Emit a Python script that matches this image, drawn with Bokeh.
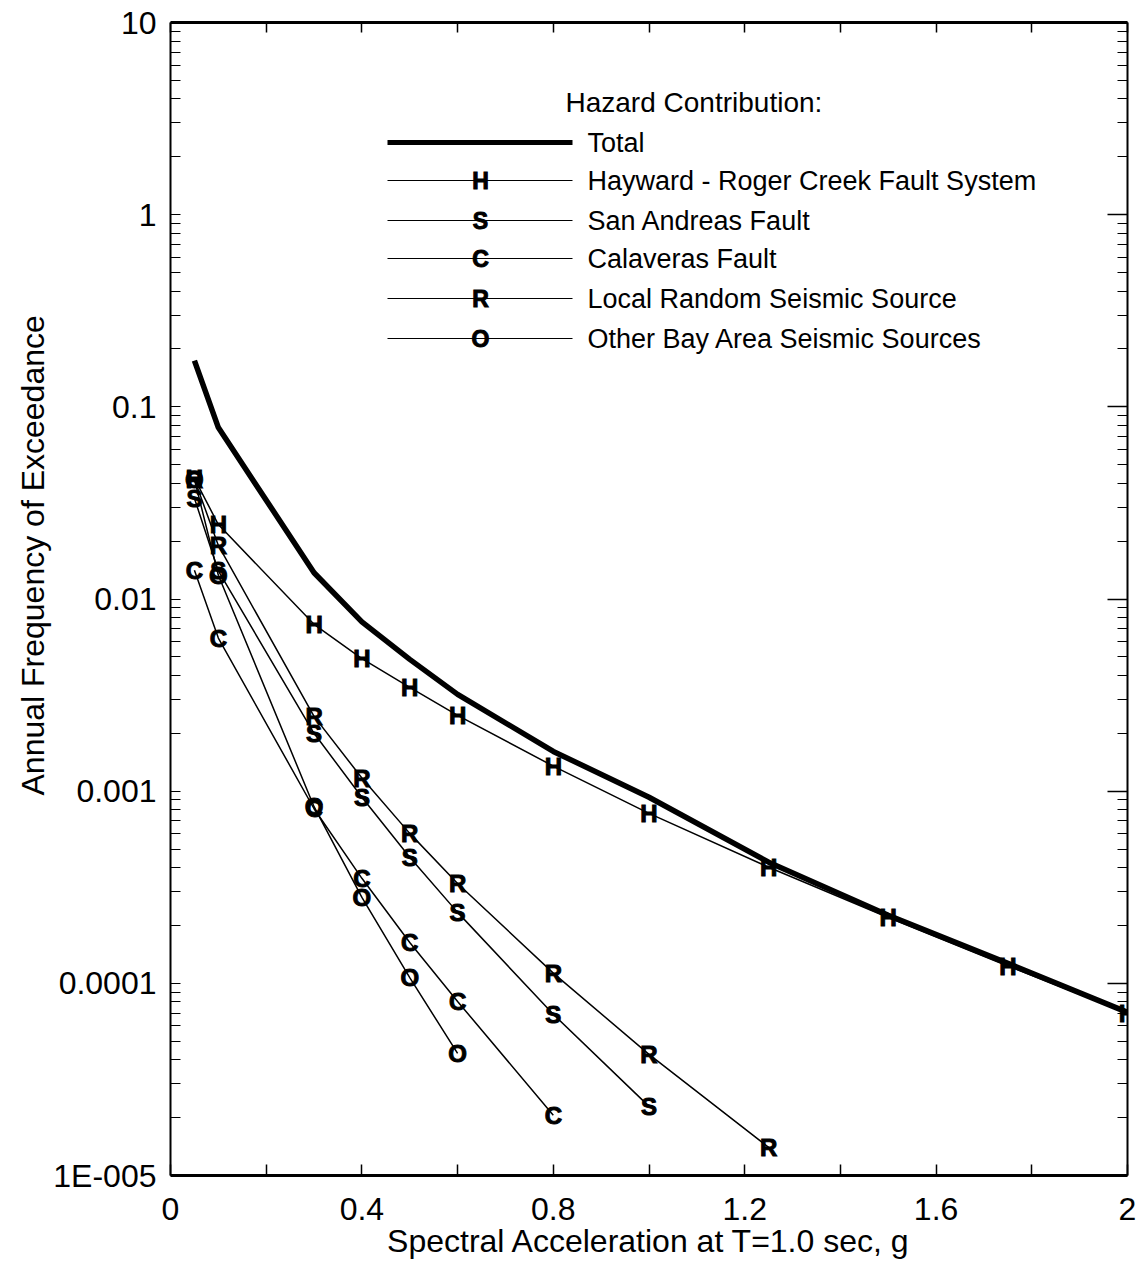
from bokeh.plotting import figure
from bokeh.models import (FixedTicker, LinearAxis, LogAxis, Range1d, Label, Arrow, Title,
                          CustomJSTickFormatter, CustomLabelingPolicy)
from bokeh.core.properties import value
from bokeh.embed import file_html
from bokeh.resources import INLINE

# ---------------- data ----------------
sa_total = [0.05, 0.1, 0.3, 0.4, 0.5, 0.6, 0.8, 1.0, 1.25, 1.5, 1.75, 2.0]
total = [0.174, 0.078, 0.0137, 0.0076, 0.00485, 0.00319, 0.00161, 0.00093,
         0.000427, 0.000226, 0.000127, 7.06e-5]

sa_hayward = [0.05, 0.1, 0.3, 0.4, 0.5, 0.6, 0.8, 1.0, 1.25, 1.5, 1.75, 2.0]
hayward = [0.0424, 0.0244, 0.00738, 0.0049, 0.00347, 0.00248, 0.00135, 0.000766,
           0.000402, 0.00022, 0.000123, 7.0e-5]

sa_san_andreas = [0.05, 0.1, 0.3, 0.4, 0.5, 0.6, 0.8, 1.0]
san_andreas = [0.0334, 0.0140, 0.0020, 0.00093, 0.000453, 0.000234, 6.9e-5, 2.29e-5]

sa_calaveras = [0.05, 0.1, 0.3, 0.4, 0.5, 0.6, 0.8]
calaveras = [0.0141, 0.00626, 0.00081, 0.000352, 0.000163, 8.05e-5, 2.06e-5]

sa_local = [0.05, 0.1, 0.3, 0.4, 0.5, 0.6, 0.8, 1.0, 1.25]
local_random = [0.042, 0.019, 0.00245, 0.00117, 0.000603, 0.000331, 0.000113, 4.27e-5, 1.4e-5]

sa_other = [0.05, 0.1, 0.3, 0.4, 0.5, 0.6]
other_bay = [0.042, 0.0133, 0.00083, 0.00028, 0.000107, 4.32e-5]

series_names = ["Hayward - Roger Creek Fault System", "San Andreas Fault",
                "Calaveras Fault", "Local Random Seismic Source",
                "Other Bay Area Seismic Sources"]
series_letters = ["H", "S", "C", "R", "O"]
series_x = [sa_hayward, sa_san_andreas, sa_calaveras, sa_local, sa_other]
series_y = [hayward, san_andreas, calaveras, local_random, other_bay]

x_ticks = [0, 0.4, 0.8, 1.2, 1.6, 2.0]
x_tick_labels = ["0", "0.4", "0.8", "1.2", "1.6", "2"]
x_minor = [0.2, 0.6, 1.0, 1.4, 1.8]
y_ticks = [1e-5, 1e-4, 1e-3, 1e-2, 1e-1, 1, 10]
y_tick_labels = ["1E-005", "0.0001", "0.001", "0.01", "0.1", "1", "10"]
y_minor = [m * 10.0 ** e for e in range(-5, 1) for m in range(2, 10)]

FONT = "Liberation Sans"
X0, X1 = 0.0, 2.0
LY0, LY1 = -5.0, 1.0
FRAME_W, FRAME_H = 957, 1153


def fx(px):
    """frame pixel offset (from left) -> data x"""
    return X0 + (X1 - X0) * px / FRAME_W


def fy(py):
    """frame pixel offset (from bottom) -> data y on log axis"""
    return 10 ** (LY0 + (LY1 - LY0) * py / FRAME_H)


p = figure(width=1142, height=1269, x_range=Range1d(X0, X1),
           y_range=Range1d(10 ** LY0, 10 ** LY1),
           y_axis_type="log", output_backend="svg", toolbar_location=None,
           min_border_left=170, min_border_right=15, min_border_top=22,
           min_border_bottom=94)
p.xgrid.visible = False
p.ygrid.visible = False
p.outline_line_color = None
p.background_fill_color = "white"
p.border_fill_color = "white"

xfmt = CustomJSTickFormatter(args=dict(vals=x_ticks, labs=x_tick_labels), code="""
for (let i = 0; i < vals.length; i++) { if (Math.abs(tick - vals[i]) < 1e-6) return labs[i]; }
return '';
""")
yfmt = CustomJSTickFormatter(args=dict(vals=y_ticks, labs=y_tick_labels), code="""
for (let i = 0; i < vals.length; i++) { if (Math.abs(Math.log10(tick) - Math.log10(vals[i])) < 1e-6) return labs[i]; }
return '';
""")
hide_all = CustomLabelingPolicy(code="return new Set()")


def style_common(ax):
    ax.major_tick_out = 0
    ax.minor_tick_out = 0
    ax.major_tick_line_color = "black"
    ax.minor_tick_line_color = "black"
    ax.axis_line_color = "black"
    ax.major_label_text_color = "black"
    ax.axis_label_text_color = "black"


# bottom
xa = p.xaxis[0]
xa.ticker = FixedTicker(ticks=x_ticks, minor_ticks=x_minor)
xa.formatter = xfmt
style_common(xa)
xa.major_tick_in = 11
xa.minor_tick_in = 11
xa.major_tick_line_width = 1.5
xa.minor_tick_line_width = 1.5
xa.axis_line_width = 3
xa.major_label_text_font = FONT
xa.major_label_text_font_size = "32px"
xa.major_label_standoff = 22
xa.axis_label = "Spectral Acceleration at T=1.0 sec, g"
xa.axis_label_text_font = FONT
xa.axis_label_text_font_size = "32px"
xa.axis_label_text_font_style = "normal"
xa.axis_label_standoff = 0

# left
ya = p.yaxis[0]
ya.ticker = FixedTicker(ticks=y_ticks, minor_ticks=y_minor)
ya.formatter = yfmt
style_common(ya)
ya.major_tick_in = 10
ya.minor_tick_in = 10
ya.axis_line_width = 2
ya.major_label_text_font = FONT
ya.major_label_text_font_size = "32px"
ya.major_label_standoff = 14
ya.major_label_orientation = "horizontal"

# y-axis title, placed like the reference (above the frame's centre)
p.add_layout(Title(text="Annual Frequency of Exceedance", align="left", offset=380,
                   text_font=FONT, text_font_size="32px", text_font_style="normal",
                   text_color="black", standoff=0), "left")

# top (ticks only)
ta = LinearAxis(ticker=FixedTicker(ticks=x_ticks, minor_ticks=x_minor),
                major_label_policy=hide_all)
style_common(ta)
ta.major_tick_in = 10
ta.minor_tick_in = 10
ta.major_tick_line_width = 1.5
ta.minor_tick_line_width = 1.5
ta.axis_line_width = 3
ta.major_label_text_font_size = "2px"
ta.major_label_standoff = 0
p.add_layout(ta, "above")

# right (ticks only)
ra = LogAxis(ticker=FixedTicker(ticks=y_ticks, minor_ticks=y_minor),
             major_label_policy=hide_all)
style_common(ra)
ra.major_tick_in = 20
ra.minor_tick_in = 10
ra.major_tick_line_width = 1.5
ra.axis_line_width = 2
ra.major_label_text_font_size = "2px"
ra.major_label_standoff = 0
p.add_layout(ra, "right")

# --------------- curves ---------------
p.line(sa_total, total, line_color="black", line_width=5.5)
for xs, ys in zip(series_x, series_y):
    p.line(xs, ys, line_color="black", line_width=1.5)
for xs, ys, letter in zip(series_x, series_y, series_letters):
    p.text(xs, ys, text=[letter] * len(xs), text_font=value(FONT),
           text_font_style="bold", text_font_size="24px", text_align="center",
           text_baseline="middle", text_color="black",
           text_outline_color="black")

# --------------- legend ---------------
leg_x0, leg_x1, leg_mid, leg_text_x, leg_title_x = 217, 402, 310, 417, 395
leg_rows = [1033, 995, 955, 917, 877, 837]
p.add_layout(Label(x=fx(leg_title_x), y=fy(1073),
                   text="Hazard Contribution:", text_font=FONT, text_font_size="28px",
                   text_baseline="middle", text_color="black"))
p.add_layout(Arrow(end=None, x_start=fx(leg_x0), x_end=fx(leg_x1),
                   y_start=fy(leg_rows[0]), y_end=fy(leg_rows[0]),
                   line_color="black", line_width=5))
p.add_layout(Label(x=fx(leg_text_x), y=fy(leg_rows[0]),
                   text="Total", text_font=FONT, text_font_size="27px",
                   text_baseline="middle", text_color="black"))
for row, name, letter in zip(leg_rows[1:], series_names, series_letters):
    p.add_layout(Arrow(end=None, x_start=fx(leg_x0), x_end=fx(leg_x1),
                       y_start=fy(row), y_end=fy(row),
                       line_color="black", line_width=1.2))
    p.add_layout(Label(x=fx(leg_mid), y=fy(row),
                       text=letter, text_font=FONT, text_font_style="bold",
                       text_font_size="23px", text_align="center",
                       text_baseline="middle", text_color="black",
                       text_outline_color="black"))
    p.add_layout(Label(x=fx(leg_text_x), y=fy(row),
                       text=name, text_font=FONT, text_font_size="27px",
                       text_baseline="middle", text_color="black"))

open("out.html", "w").write(file_html(p, INLINE))
